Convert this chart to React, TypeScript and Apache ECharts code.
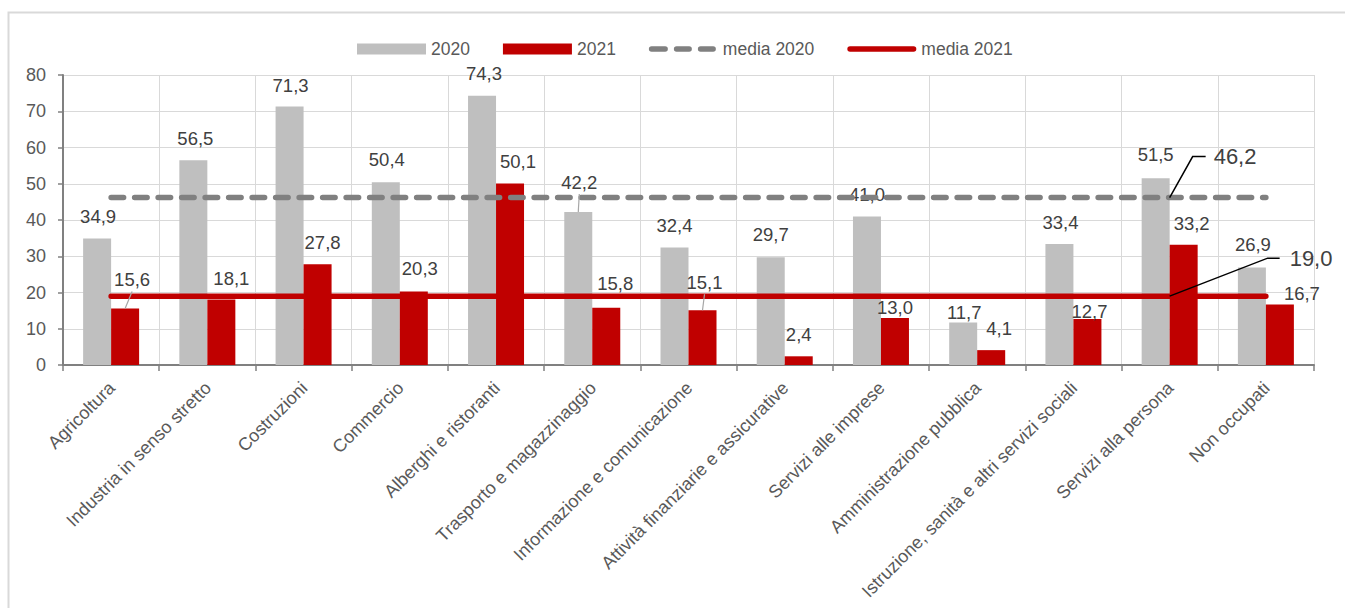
import React, { useEffect, useRef } from "react";
import * as echarts from "echarts";

// Sectors
const categories = [
  "Agricoltura",
  "Industria in senso stretto",
  "Costruzioni",
  "Commercio",
  "Alberghi e ristoranti",
  "Trasporto e magazzinaggio",
  "Informazione e comunicazione",
  "Attività finanziarie e assicurative",
  "Servizi alle imprese",
  "Amministrazione pubblica",
  "Istruzione, sanità e altri servizi sociali",
  "Servizi alla persona",
  "Non occupati",
];

const values2020 = [34.9, 56.5, 71.3, 50.4, 74.3, 42.2, 32.4, 29.7, 41.0, 11.7, 33.4, 51.5, 26.9];
const values2021 = [15.6, 18.1, 27.8, 20.3, 50.1, 15.8, 15.1, 2.4, 13.0, 4.1, 12.7, 33.2, 16.7];

const mean2020 = 46.2;
const mean2021 = 19.0;

const yMin = 0;
const yMax = 80;
const yStep = 10;

// Label nudges [dx, dy] so that value labels avoid the average lines
const nudge2020: [number, number][] = [
  [1, 0], [2, 0], [1, 0], [1, -1], [2, -1], [1, -8], [0, -1],
  [0, -1], [0, 0], [1, 11], [1, 0], [0, -2], [1, -1],
];
const nudge2021: [number, number][] = [
  [7, -7], [10, 1], [5, 0], [6, -1], [8, 0], [9, -3], [2, -6],
  [0, 0], [0, 11], [8, 0], [2, 14], [8, 0], [22, 11],
];

const GRAY = "#bfbfbf";
const RED = "#c00000";
const DARK_GRAY = "#808080";
const TEXT = "#404040";
const AXIS_TEXT = "#595959";
const GRID = "#d9d9d9";
const FONT = "'Liberation Sans', Arial, sans-serif";
const BAR_W = 28;
const LABEL_RISE = 22;

// Legend glyphs drawn in a 69x11 box (tiny corner dots pin the box size)
const PIN = "M0,0h0.01v0.01h-0.01Z M69,11h-0.01v-0.01h0.01Z ";
const dash = (a: number, b: number) =>
  `M${a + 2.75},2.75 H${b - 2.75} A2.75,2.75 0 0 1 ${b - 2.75},8.25 H${a + 2.75} A2.75,2.75 0 0 1 ${a + 2.75},2.75 Z `;
const DASHED_ICON = "path://" + PIN + dash(0, 19) + dash(25, 43) + dash(49, 67);
const SOLID_ICON = "path://" + PIN + dash(0, 69);

const fmt = (v: number) => v.toFixed(1).replace(".", ",");

export default function App() {
  const ref = useRef<HTMLDivElement>(null);

  useEffect(() => {
    if (!ref.current) return;
    const chart = echarts.init(ref.current, null, { renderer: "svg" });

    const barLabel = {
      show: true,
      position: "top",
      distance: 12,
      fontSize: 18.5,
      fontFamily: FONT,
      color: TEXT,
      formatter: (p: any) => fmt(p.value),
    };

    chart.setOption({
      animation: false,
      textStyle: { fontFamily: FONT },
      legend: {
        left: 357,
        top: 40,
        padding: 0,
        itemWidth: 69,
        itemHeight: 11,
        itemGap: 33,
        textStyle: { fontSize: 17.5, color: AXIS_TEXT, fontFamily: FONT },
        data: [
          { name: "2020", icon: "rect" },
          { name: "2021", icon: "rect" },
          { name: "media 2020", icon: DASHED_ICON, itemStyle: { color: DARK_GRAY } },
          { name: "media 2021", icon: SOLID_ICON, itemStyle: { color: RED } },
        ],
      },
      grid: {
        left: 63,
        right: 31,
        top: 75,
        bottom: 243,
        containLabel: false,
        outerBoundsMode: "none",
      },
      xAxis: {
        type: "category",
        data: categories,
        axisLine: { lineStyle: { color: DARK_GRAY, width: 2 } },
        axisTick: { show: true, length: 6, lineStyle: { color: DARK_GRAY, width: 1.5 } },
        splitLine: { show: true, interval: 0, lineStyle: { color: GRID, width: 1 } },
        axisLabel: {
          interval: 0,
          rotate: 45,
          align: "right",
          verticalAlign: "top",
          margin: 8,
          padding: [0, 8, 0, 0],
          fontSize: 18,
          color: AXIS_TEXT,
          fontFamily: FONT,
        },
      },
      yAxis: {
        type: "value",
        min: yMin,
        max: yMax,
        interval: yStep,
        axisLine: { show: true, lineStyle: { color: DARK_GRAY, width: 2 } },
        axisTick: { show: true, length: 5, lineStyle: { color: DARK_GRAY, width: 1.5 } },
        splitLine: { show: true, lineStyle: { color: GRID, width: 1 } },
        axisLabel: { fontSize: 18, color: AXIS_TEXT, margin: 17, fontFamily: FONT },
      },
      series: [
        {
          name: "2020",
          type: "bar",
          barWidth: BAR_W,
          barGap: "0%",
          itemStyle: { color: GRAY },
          label: barLabel,
          data: values2020.map((v, i) => ({
            value: v,
            label: { offset: [nudge2020[i][0], nudge2020[i][1]] },
          })),
          z: 2,
        },
        {
          name: "2021",
          type: "bar",
          barWidth: BAR_W,
          barGap: "0%",
          itemStyle: { color: RED },
          label: barLabel,
          data: values2021.map((v, i) => ({
            value: v,
            label: { offset: [nudge2021[i][0], nudge2021[i][1]] },
          })),
          z: 2,
        },
        {
          name: "media 2020",
          type: "line",
          symbol: "none",
          itemStyle: { color: DARK_GRAY },
          lineStyle: { color: DARK_GRAY, width: 5.5, type: [12.5, 11], cap: "round" },
          data: categories.map(() => mean2020),
          z: 3,
        },
        {
          name: "media 2021",
          type: "line",
          symbol: "none",
          itemStyle: { color: RED },
          lineStyle: { color: RED, width: 5.5, cap: "round" },
          data: categories.map(() => mean2021),
          z: 3,
        },
      ],
    });

    const px = (i: number, v: number) =>
      chart.convertToPixel({ xAxisIndex: 0, yAxisIndex: 0 }, [i, v]) as number[];

    // Short guide lines from a displaced label down to its bar
    const guide = (i: number, v: number, side: number, nudge: [number, number]) => {
      const [cx, top] = px(i, v);
      const bx = cx + side * (BAR_W / 2);
      const lx = bx + nudge[0];
      const ly = top - LABEL_RISE + nudge[1] + 12;
      return {
        type: "line",
        silent: true,
        z: 10,
        shape: { x1: lx, y1: ly, x2: bx, y2: top },
        style: { stroke: "#a6a6a6", lineWidth: 1.2 },
      };
    };

    // Callouts for the two averages, attached at "Servizi alla persona"
    const anchorIdx = 11;
    const [ax, ay20] = px(anchorIdx, mean2020);
    const [, ay21] = px(anchorIdx, mean2021);

    chart.setOption({
      graphic: [
        {
          type: "rect",
          silent: true,
          z: -10,
          shape: { x: 8.5, y: 12.5, width: 1400, height: 700 },
          style: { fill: "none", stroke: GRID, lineWidth: 2 },
        },
        guide(0, values2021[0], 1, nudge2021[0]),
        guide(6, values2021[6], 1, nudge2021[6]),
        guide(5, values2020[5], -1, nudge2020[5]),
        {
          type: "polyline",
          silent: true,
          z: 10,
          shape: { points: [[ax, ay20], [ax + 23, ay20 - 41], [ax + 36, ay20 - 41]] },
          style: { stroke: "#000", lineWidth: 1.5, fill: "none" },
        },
        {
          type: "text",
          silent: true,
          z: 10,
          x: ax + 44,
          y: ay20 - 41,
          style: {
            text: fmt(mean2020),
            fontSize: 22,
            fontFamily: FONT,
            fill: TEXT,
            verticalAlign: "middle",
            align: "left",
          },
        },
        {
          type: "polyline",
          silent: true,
          z: 10,
          shape: { points: [[ax, ay21], [ax + 98, ay21 - 38], [ax + 110, ay21 - 38]] },
          style: { stroke: "#000", lineWidth: 1.5, fill: "none" },
        },
        {
          type: "text",
          silent: true,
          z: 10,
          x: ax + 120,
          y: ay21 - 38,
          style: {
            text: fmt(mean2021),
            fontSize: 22,
            fontFamily: FONT,
            fill: TEXT,
            verticalAlign: "middle",
            align: "left",
          },
        },
      ],
    });

    return () => chart.dispose();
  }, []);

  return (
    <div
      ref={ref}
      style={{ position: "absolute", left: 0, top: 0, width: 1345, height: 608, background: "#fff" }}
    />
  );
}
